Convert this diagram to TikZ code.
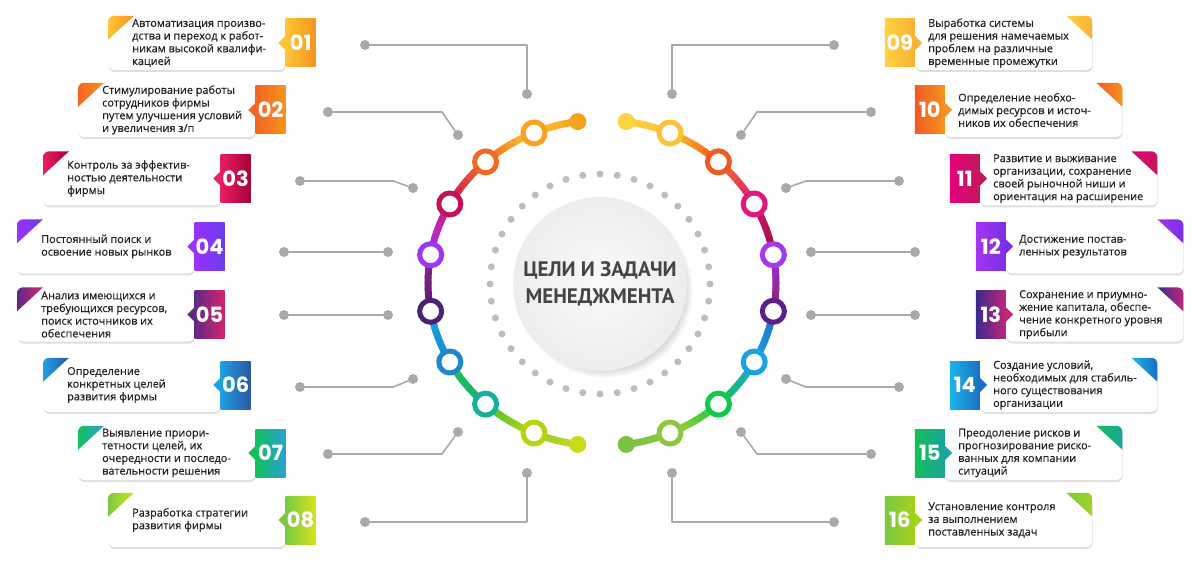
\documentclass[tikz,border=0pt]{standalone}
\usepackage{fontspec}
\setmainfont{Open Sans}
\newfontfamily\itemfont{Open Sans}[FakeBold=0.45]
\newfontfamily\numfont{Poppins}
\newfontfamily\titlefont{PT Sans}
\usepackage{tikz}
\usetikzlibrary{shadows}
\usetikzlibrary{positioning, calc}
\definecolor{linegray}{HTML}{A7A9AC}
\definecolor{dotgray}{HTML}{BDBDBD}
\definecolor{textdark}{HTML}{231F20}
\definecolor{titlegray}{HTML}{444444}

\begin{document}
\begin{tikzpicture}[x=1pt, y=1pt, line cap=round, line join=round,
  itembox/.style={fill=white, rounded corners=6pt, minimum width=177pt, minimum height=54pt, inner sep=0pt,
    drop shadow={shadow xshift=0.5pt, shadow yshift=-2pt, opacity=0.25}},
  numtab/.style={minimum width=30pt, minimum height=48pt, inner sep=0pt, text=white,
    font=\numfont\bfseries\fontsize{21}{21}\selectfont},
  itemtext/.style={anchor=west, align=left, inner sep=0pt, text=textdark,
    font=\itemfont\fontsize{10.9}{12.7}\selectfont},
  gline/.style={draw=linegray, line width=1.6pt},
  gdot/.style={circle, fill=linegray, minimum size=10pt, inner sep=0pt},
  ringnode/.style={circle, fill=white, line width=5pt, minimum size=22pt, inner sep=0pt},
  enddot/.style={circle, minimum size=17pt, inner sep=0pt}]

\useasboundingbox (0,0) rectangle (1200,-564);

% --- Cerchio centrale ---
\foreach \a in {0,9,...,351}
  \fill[dotgray] ([shift={(600,-284)}]\a:110) circle (3.5);
\node[circle, minimum size=174pt, inner color=gray!4, outer color=gray!14,
  circular drop shadow={shadow xshift=5pt, shadow yshift=-6pt, opacity=0.45, shadow scale=1.01}] (core) at (600,-284) {};
\node[align=center, text=titlegray, font=\titlefont\bfseries\fontsize{21}{27}\selectfont] (title) at (core) {ЦЕЛИ И ЗАДАЧИ\\МЕНЕДЖМЕНТА};

% --- Archi colorati ---
\foreach \ta/\tb/\ca/\cb in {98/113/F7A11A/FDBE2C, 113/132/FFD03A/F26A21, 132/151/F47A20/C8145A,
  151/170/E0197D/A02FE0, 170/190/7A2A9A/6A1B60, 190/209/1AA8E0/1A8AD4, 209/228/26C04A/17B37A,
  228/247/3CC03A/B5D30F, 247/262/8CC63F/C8DA1A,
  82/67/FFD23F/FDC23A, 67/48/FDC82F/F05A22, 48/29/F47B20/E3197A, 29/10/D0156A/A0103E,
  10/-10/9B30E0/8E2470, -10/-29/1C6DC0/1BA1E2, -29/-48/1BA8D8/16C05A, -48/-67/0FC64A/A5CF2A,
  -67/-82/8CC63F/7CC242}{
  \definecolor{sega}{HTML}{\ca}\definecolor{segb}{HTML}{\cb}
  \foreach \k in {0,...,9}{
    \pgfmathsetmacro\tx{\ta+(\tb-\ta)*\k/10}
    \pgfmathsetmacro\ty{\ta+(\tb-\ta)*(\k+1)/10}
    \pgfmathtruncatemacro\pc{\k*100/9}
    \draw[line width=7pt, segb!\pc!sega] ([shift={(602,-283)}]\tx:174 and 163)
      arc[start angle=\tx, end angle=\ty, x radius=174, y radius=163];
  }
}

% --- Anelli ---
\foreach \i/\a/\c in {1/113/F8A21E, 2/132/F26A21, 3/151/C4125A, 4/170/9A36F5, 5/190/4A2377,
  6/209/1C86D0, 7/228/17B09A, 8/247/B5D30F, 9/67/FDC236, 10/48/F05A22, 11/29/E2167F,
  12/10/A537F2, 13/-10/5A1F8A, 14/-29/1BA1E2, 15/-48/10C84A, 16/-67/8DC63F}{
  \definecolor{rc}{HTML}{\c}
  \node[ringnode, draw=rc] (ring\i) at ([shift={(602,-283)}]\a:174 and 163) {};
}
\definecolor{endc}{HTML}{F7A21B}
\node[enddot, fill=endc] (endl1) at ([shift={(602,-283)}]98:174 and 163) {};
\definecolor{endc}{HTML}{C8DA1A}
\node[enddot, fill=endc] (endl2) at ([shift={(602,-283)}]262:174 and 163) {};
\definecolor{endc}{HTML}{FFD23F}
\node[enddot, fill=endc] (endr1) at ([shift={(602,-283)}]82:174 and 163) {};
\definecolor{endc}{HTML}{7CC242}
\node[enddot, fill=endc] (endr2) at ([shift={(602,-283)}]-82:174 and 163) {};

% --- Linee grigie ---
\foreach \i/\ax/\ay/\bx/\by/\kx in {1/365/45/527/94/527, 2/328/112/458/135/442, 3/300/181/413/188/393,
  4/284/252/388/252/388, 5/284/315/388/315/388, 6/300/387/413/379/393, 7/328/454/458/432/442,
  8/365/522/527/473/527}{
  \node[gdot] (la\i) at (\ax,-\ay) {};
  \node[gdot] (lb\i) at (\bx,-\by) {};
  \draw[gline] (la\i) -- (\kx,-\ay) -- (lb\i);
  \node[gdot] (ra\i) at (1199-\ax,-\ay) {};
  \node[gdot] (rb\i) at (1199-\bx,-\by) {};
  \draw[gline] (ra\i) -- (1199-\kx,-\ay) -- (rb\i);
}

% --- Riquadri a sinistra ---
\foreach \n/\yc/\xb/\ca/\cb/\itxt in {
  01/43/108/FDC536/F7941D/{Автоматизация произво-\\дства и переход к работ-\\никам высокой квалифи-\\кацией},
  02/110/78/F26522/F7941D/{Стимулирование работы\\сотрудников фирмы\\путем улучшения условий\\и увеличения з/п},
  03/178.5/43/E91E63/A50034/{Контроль за эффектив-\\ностью деятельности\\фирмы},
  04/246.5/17/9B30FF/6A3EE8/{Постоянный поиск и\\освоение новых рынков},
  05/314.5/17/5E2A84/D6246E/{Анализ имеющихся и\\требующихся ресурсов,\\поиск источников их\\обеспечения},
  06/385/43/1FA2E1/2A56A4/{Определение\\конкретных целей\\развития фирмы},
  07/453/78/12C15A/2A9FD6/{Выявление приори-\\тетности целей, их\\очередности и последо-\\вательности решения},
  08/520/108/7AC943/D4E21B/{Разработка стратегии\\развития фирмы}}{
  \definecolor{tabl}{HTML}{\ca}\definecolor{tabr}{HTML}{\cb}
  \node[itembox, anchor=west] (box\n) at (\xb,-\yc) {};
  \begin{scope}
    \clip[rounded corners=6pt] (box\n.south west) rectangle (box\n.north east);
    \shade[left color=tabl, right color=tabr] (box\n.north west) -- ++(26,0) -- ++(-26,-24) -- cycle;
  \end{scope}
  \node[numtab, left color=tabl, right color=tabr, anchor=west] (tab\n) at (box\n.east) {\n};
  \fill[tabl] ([yshift=7pt]tab\n.west) -- ++(-7,-7) -- ++(7,-7) -- cycle;
  \node[itemtext] (txt\n) at ([xshift=24pt]box\n.west) {\itxt};
}

% --- Riquadri a destra ---
\foreach \n/\yc/\xb/\ca/\cb/\itxt in {
  09/43/915/FFD23F/F9B233/{Выработка системы\\для решения намечаемых\\проблем на различные\\временные промежутки},
  10/110/945/F15A24/F7931E/{Определение необхо-\\димых ресурсов и источ-\\ников их обеспечения},
  11/178.5/980/E6007E/C2185B/{Развитие и выживание\\организации, сохранение\\своей рыночной ниши и\\ориентация на расширение},
  12/246.5/1006/A535F0/7B2FE6/{Достижение постав-\\ленных результатов},
  13/314.5/1006/3B2A8F/C0267A/{Сохранение и приумно-\\жение капитала, обеспе-\\чение конкретного уровня\\прибыли},
  14/385/980/1CB5E8/1A6FC4/{Создание условий,\\необходимых для стабиль-\\ного существования\\организации},
  15/453/945/12C15A/1BA39C/{Преодоление рисков и\\прогнозирование риско-\\ванных для компании\\ситуаций},
  16/520/915/7AC943/A5D21B/{Установление контроля\\за выполнением\\поставленных задач}}{
  \definecolor{tabl}{HTML}{\ca}\definecolor{tabr}{HTML}{\cb}
  \node[itembox, anchor=west] (box\n) at (\xb,-\yc) {};
  \begin{scope}
    \clip[rounded corners=6pt] (box\n.south west) rectangle (box\n.north east);
    \shade[left color=tabl, right color=tabr] (box\n.north east) -- ++(-26,0) -- ++(26,-24) -- cycle;
  \end{scope}
  \node[numtab, left color=tabl, right color=tabr, anchor=east] (tab\n) at (box\n.west) {\n};
  \fill[tabr] ([yshift=7pt]tab\n.east) -- ++(7,-7) -- ++(-7,-7) -- cycle;
  \node[itemtext] (txt\n) at ([xshift=13pt]box\n.west) {\itxt};
}
\end{tikzpicture}
\end{document}
